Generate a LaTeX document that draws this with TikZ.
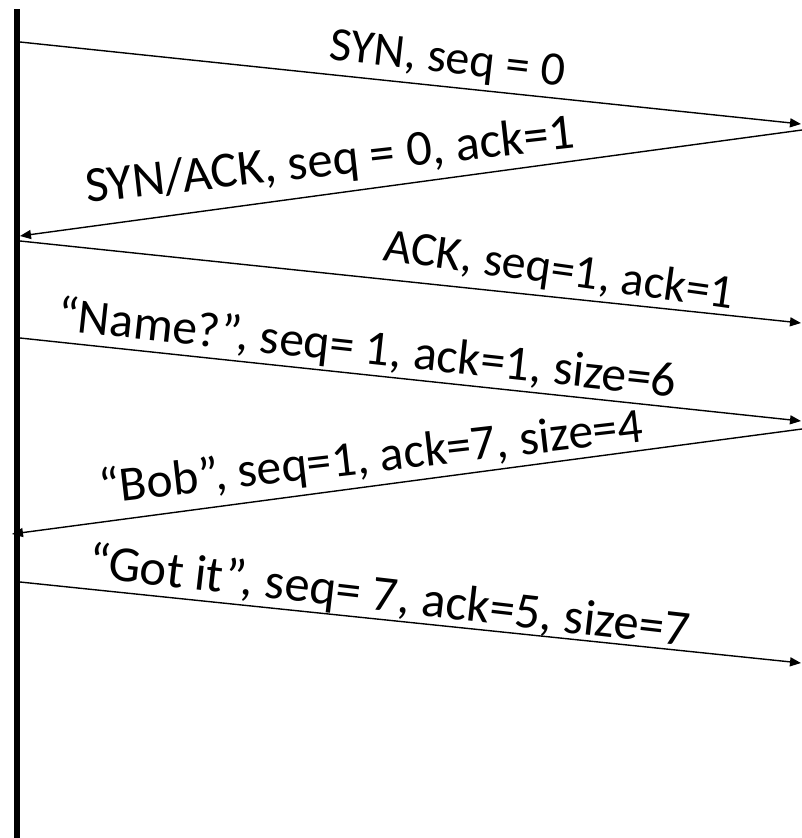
\documentclass[tikz,border=0pt]{standalone}
\usepackage{fontspec}
\setmainfont{Carlito}
\usetikzlibrary{arrows.meta}
\begin{document}
\begin{tikzpicture}[x=1pt,y=-1pt,
    timeline/.style={line width=6pt},
    msg/.style={line width=1.4pt,-{Triangle[length=11pt,width=9pt]}},
    lbl/.style={inner sep=0pt,anchor=base west},
    fs/.style={font=\fontsize{#1}{#1}\selectfont}]
  \useasboundingbox (0,0) rectangle (802,838);
  % host time line
  \coordinate (top) at (17,9);
  \coordinate (bot) at (17,838);
  \draw[timeline] (top) -- (bot);
  % end points on the host line (L) and at the far side (R)
  \coordinate (L1) at (20,42);   \coordinate (R1) at (801,124);
  \coordinate (R2) at (802,130); \coordinate (L2) at (20,236);
  \coordinate (L3) at (20,241);  \coordinate (R3) at (801,323);
  \coordinate (L4) at (20,338);  \coordinate (R4) at (801,421);
  \coordinate (R5) at (802,429); \coordinate (L5) at (12,534);
  \coordinate (L6) at (20,582);  \coordinate (R6) at (801,663);
  % messages
  \draw[msg] (L1) -- (R1);
  \draw[msg] (R2) -- (L2);
  \draw[msg] (L3) -- (R3);
  \draw[msg] (L4) -- (R4);
  \draw[msg] (R5) -- (L5);
  \draw[msg] (L6) -- (R6);
  % labels, placed by the left end of their base line
  \node[lbl,fs=48,rotate=-6.5]   (t1) at (328,59)  {SYN, seq = 0};
  \node[lbl,fs=50.5,rotate=6.4]  (t2) at (87,203)  {SYN/ACK, seq = 0, ack=1};
  \node[lbl,fs=48,rotate=-8]     (t3) at (382,260) {ACK, seq=1, ack=1};
  \node[lbl,fs=49.5,rotate=-6.2] (t4) at (56,330)  {“Name?”, seq= 1, ack=1, size=6};
  \node[lbl,fs=49.5,rotate=6.6]  (t5) at (101,504) {“Bob”, seq=1, ack=7, size=4};
  \node[lbl,fs=50.5,rotate=-6.6] (t6) at (87,577)  {“Got it”, seq= 7, ack=5, size=7};
\end{tikzpicture}
\end{document}
